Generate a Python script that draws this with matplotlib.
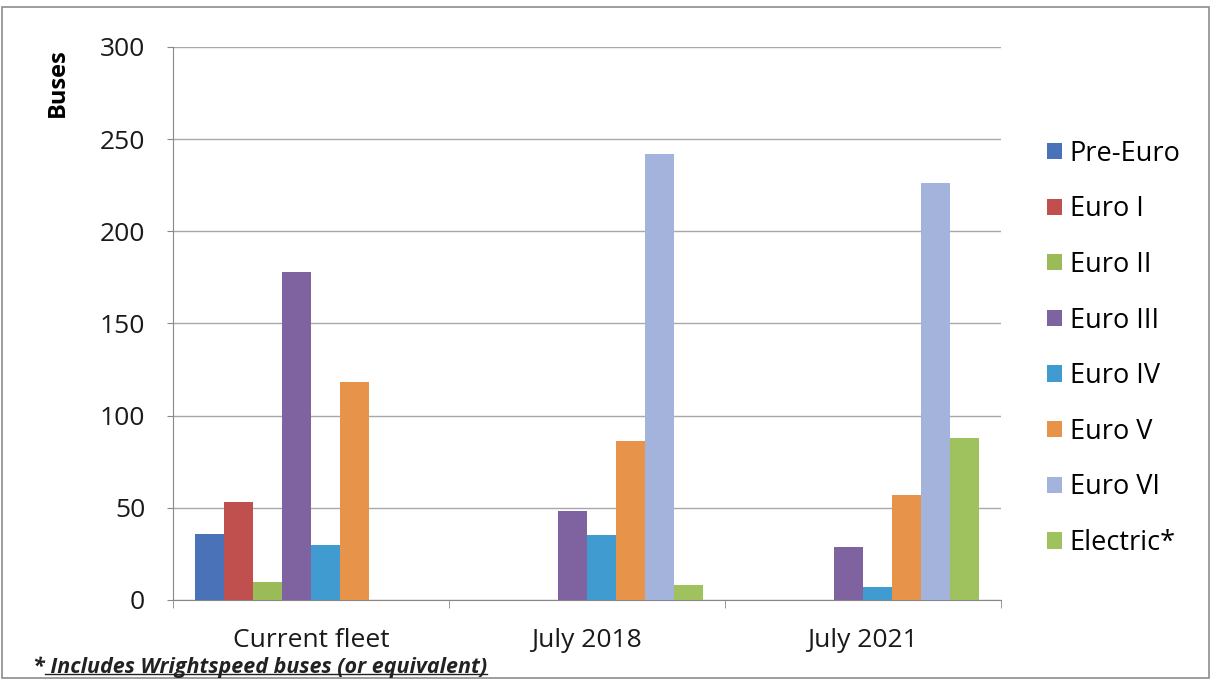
import matplotlib.pyplot as plt
import numpy as np
from matplotlib.lines import Line2D
from matplotlib.patches import Rectangle

categories = ['Current fleet', 'July 2018', 'July 2021']
series = ['Pre-Euro', 'Euro I', 'Euro II', 'Euro III', 'Euro IV', 'Euro V', 'Euro VI', 'Electric*']
pre_euro = [36, 0, 0]
euro_1 = [53, 0, 0]
euro_2 = [10, 0, 0]
euro_3 = [178, 48, 29]
euro_4 = [30, 35, 7]
euro_5 = [118, 86, 57]
euro_6 = [0, 242, 226]
electric = [0, 8, 88]
colors = ['#4A72B8', '#C0504D', '#9BBB59', '#7F63A1', '#3F9BD0', '#E8934A', '#A3B3DB', '#9FC15E']

values = [pre_euro, euro_1, euro_2, euro_3, euro_4, euro_5, euro_6, electric]

plt.rcParams['font.family'] = ['Open Sans', 'DejaVu Sans']

fig = plt.figure(figsize=(12.13, 6.81), dpi=100)
ax = fig.add_axes([0.1426, 0.119, 0.6825, 0.812])

x = np.arange(len(categories))
w = 0.105
for i, (name, vals) in enumerate(zip(series, values)):
    ax.bar(x + (i - 3.5) * w, vals, w, color=colors[i], label=name, zorder=3)

ax.set_xlim(-0.5, 2.5)
ax.set_ylim(0, 300)
ax.set_yticks(range(0, 301, 50))
ax.set_xticks(x)
ax.set_xticklabels(categories, fontsize=19, color='#1a1a1a')
ax.set_xticks([-0.5, 0.5, 1.5, 2.5], minor=True)
ax.tick_params(axis='x', which='major', length=0, pad=20)
ax.tick_params(axis='x', which='minor', length=6, color='#888888')
ax.tick_params(axis='y', labelsize=19, length=4, color='#888888', labelcolor='#1a1a1a', pad=16)
ax.grid(axis='y', color='#a8a8a8', linewidth=1, zorder=0)
for s in ['top', 'right']:
    ax.spines[s].set_visible(False)
ax.spines['left'].set_color('#888888')
ax.spines['bottom'].set_color('#888888')
ax.set_ylabel('Buses', fontsize=17, fontweight='bold')
ax.yaxis.set_label_coords(-0.125, 0.935)

ax.legend(loc='center left', bbox_to_anchor=(1.026, 0.455), frameon=False, fontsize=19.5,
          handlelength=0.55, handleheight=0.55, handletextpad=0.3, labelspacing=1.02)

fig.patches.append(Rectangle((0.002, 0.004), 0.995, 0.985, transform=fig.transFigure,
                             fill=False, edgecolor='#8c8c8c', linewidth=1.2))

t = fig.text(0.027, 0.012, '* Includes Wrightspeed buses (or equivalent)', fontsize=15.5,
             style='italic', fontweight='bold', color='#222222')
fig.canvas.draw()
bb = t.get_window_extent().transformed(fig.transFigure.inverted())
fig.lines.append(Line2D([bb.x0 + 0.01, bb.x1], [bb.y0 + 0.006, bb.y0 + 0.006],
                        transform=fig.transFigure, color='#222222', linewidth=1))

fig.savefig('out.png', dpi=100)
